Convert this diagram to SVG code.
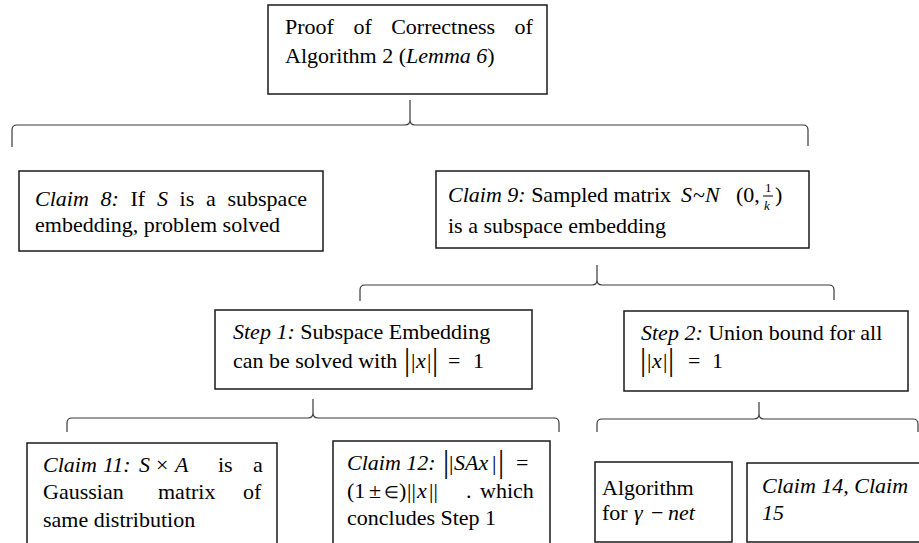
<svg xmlns="http://www.w3.org/2000/svg" width="919" height="543" viewBox="0 0 919 543">
<style>
.box{fill:#fff;stroke:#1a1a1a;stroke-width:1.5}
.br{fill:none;stroke:#3a3a3a;stroke-width:1.2}
text{font-family:"Liberation Serif","Times New Roman",serif;font-size:22px;fill:#000}
.i{font-style:italic}
.big{font-size:31px;opacity:0.99}
.sm{font-size:13px}
.el{font-size:17px}
</style>
<rect width="919" height="543" fill="#fff"/>
<g id="connectors">
<path class="br" d="M12,147 V130 Q12,125 17,125 H405 Q410,125 410,120 V100 M410,120 Q410,125 415,125 H803 Q808,125 808,130 V146"/>
<path class="br" d="M360,301 V290 Q360,285 365,285 H592 Q597,285 597,280 V265 M597,280 Q597,285 602,285 H829 Q834,285 834,290 V300"/>
<path class="br" d="M67,432 V423 Q67,418 72,418 H308 Q313,418 313,413 V399 M313,413 Q313,418 318,418 H554 Q559,418 559,423 V432"/>
<path class="br" d="M597,432 V424 Q597,419 602,419 H754 Q759,419 759,414 V402 M759,414 Q759,419 764,419 H913 Q918,419 918,424 V432"/>
</g>
<g id="root">
<rect class="box" x="268" y="5" width="279" height="89"/>
<text y="34"><tspan x="285">Proof</tspan><tspan x="353.4">of</tspan><tspan x="391.2">Correctness</tspan><tspan x="514.6">of</tspan></text>
<text x="285" y="63">Algorithm 2 (<tspan class="i">Lemma 6</tspan>)</text>
</g>
<g id="claim8">
<rect class="box" x="19" y="171" width="304" height="80"/>
<text y="206"><tspan class="i" x="35">Claim</tspan><tspan class="i" x="100.5">8:</tspan><tspan x="130.5">If</tspan><tspan class="i" x="156.9">S</tspan><tspan x="179.6">is</tspan><tspan x="206">a</tspan><tspan x="227.5">subspace</tspan></text>
<text x="35" y="232">embedding, problem solved</text>
</g>
<g id="claim9">
<rect class="box" x="436" y="171" width="373" height="77"/>
<text x="448" y="202"><tspan class="i">Claim 9:</tspan> Sampled matrix</text>
<text y="202"><tspan class="i" x="681">S</tspan><tspan x="693">~</tspan><tspan class="i" x="705">N</tspan><tspan x="736">(0,</tspan><tspan x="775">)</tspan></text>
<text class="sm" x="765" y="192">1</text>
<line x1="763" y1="196" x2="773" y2="196" stroke="#000" stroke-width="1"/>
<text class="sm i" x="764" y="210">k</text>
<text x="448" y="233">is a subspace embedding</text>
</g>
<g id="step1">
<rect class="box" x="215" y="310" width="317" height="79"/>
<text x="233" y="339"><tspan class="i">Step 1:</tspan> Subspace Embedding</text>
<text y="368"><tspan x="233">can be solved with</tspan><tspan x="411">|</tspan><tspan class="i" x="416">x</tspan><tspan x="427">|</tspan><tspan x="448">=</tspan><tspan x="473">1</tspan></text>
<text class="big" x="404" y="370">|</text>
<text class="big" x="432" y="370">|</text>
</g>
<g id="step2">
<rect class="box" x="624" y="311" width="284" height="80"/>
<text x="641" y="340"><tspan class="i">Step 2:</tspan> Union bound for all</text>
<text y="368"><tspan x="647">|</tspan><tspan class="i" x="652">x</tspan><tspan x="663">|</tspan><tspan x="688">=</tspan><tspan x="712">1</tspan></text>
<text class="big" x="640" y="370">|</text>
<text class="big" x="668" y="370">|</text>
</g>
<g id="claim11">
<rect class="box" x="27" y="443" width="250" height="120"/>
<text y="472"><tspan class="i" x="43">Claim</tspan><tspan class="i" x="103">11:</tspan><tspan class="i" x="139">S</tspan><tspan x="156">×</tspan><tspan class="i" x="175">A</tspan><tspan x="218">is</tspan><tspan x="253">a</tspan></text>
<text y="499"><tspan x="43">Gaussian</tspan><tspan x="158">matrix</tspan><tspan x="243">of</tspan></text>
<text x="43" y="527">same distribution</text>
</g>
<g id="claim12">
<rect class="box" x="333" y="441" width="217" height="122"/>
<text y="470"><tspan class="i" x="347">Claim 12:</tspan><tspan x="449">|</tspan><tspan class="i" x="454">SAx</tspan><tspan x="492">|</tspan><tspan x="516">=</tspan></text>
<text class="big" x="443" y="472">|</text>
<text class="big" x="498" y="472">|</text>
<text y="498"><tspan x="347">(1</tspan><tspan x="369">±</tspan><tspan class="el" x="384">∈</tspan><tspan x="399">)</tspan><tspan x="407">||</tspan><tspan class="i" x="417">x</tspan><tspan x="429">||</tspan><tspan x="466">.</tspan><tspan x="480">which</tspan></text>
<text x="347" y="525">concludes Step 1</text>
</g>
<g id="algorithm">
<rect class="box" x="595" y="462" width="137" height="80"/>
<text x="602" y="495">Algorithm</text>
<text y="520"><tspan x="602">for</tspan><tspan class="i" x="634">γ</tspan><tspan x="651">−</tspan><tspan class="i" x="668">net</tspan></text>
</g>
<g id="claim14">
<rect class="box" x="747" y="463" width="190" height="79"/>
<text class="i" x="762" y="493">Claim 14, Claim</text>
<text class="i" x="762" y="520">15</text>
</g>
</svg>
